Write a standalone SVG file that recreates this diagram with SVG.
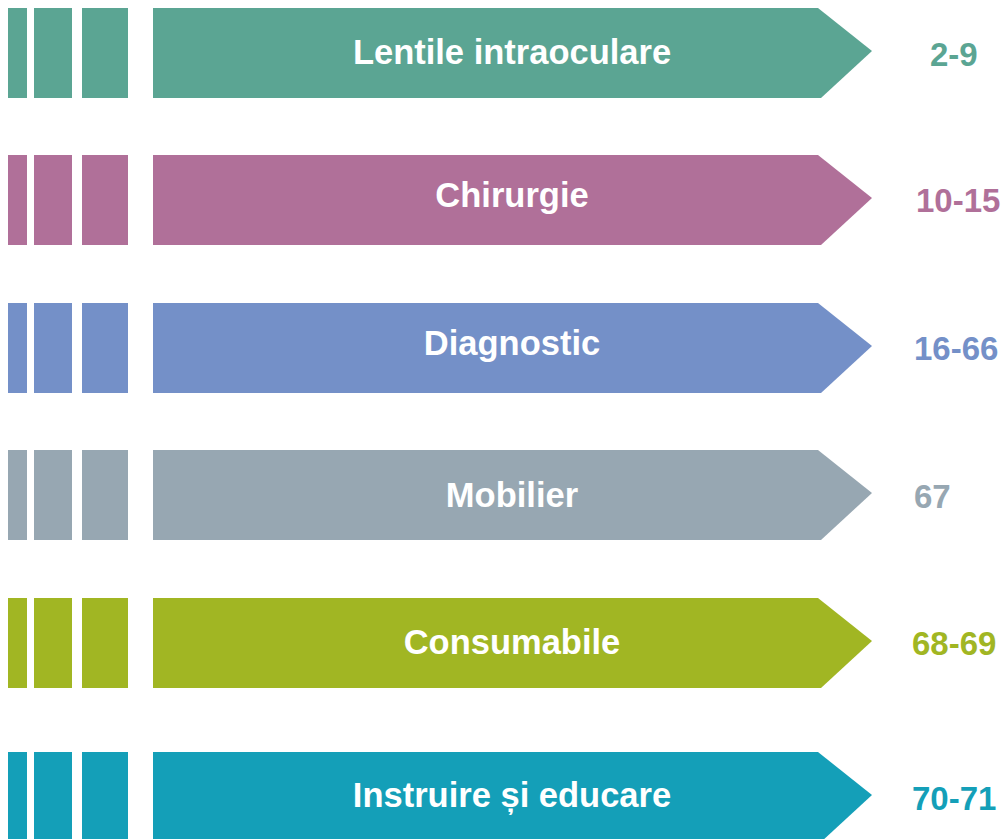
<svg xmlns="http://www.w3.org/2000/svg" width="1003" height="839" viewBox="0 0 1003 839">
  <style>
    .label { font-family: "Liberation Sans", Arial, sans-serif; font-weight: bold; font-size: 34.5px; fill: #ffffff; text-anchor: middle; }
    .pages { font-family: "Liberation Sans", Arial, sans-serif; font-weight: bold; font-size: 33px; }
    .c1 { fill: #5BA593; }
    .c2 { fill: #B07099; }
    .c3 { fill: #7490C8; }
    .c4 { fill: #97A7B2; }
    .c5 { fill: #A1B623; }
    .c6 { fill: #149FB8; }
  </style>
  <defs>
    <!-- three stripes + pointed banner, drawn at row top = 0 -->
    <g id="band">
      <rect x="8" y="0" width="19" height="90"/>
      <rect x="34" y="0" width="38" height="90"/>
      <rect x="82" y="0" width="46" height="90"/>
      <path d="M153,0 H818 L872,43 L821,90 H153 Z"/>
    </g>
  </defs>

  <rect width="1003" height="839" fill="#ffffff"/>

  <g id="lentile-intraoculare">
    <use href="#band" class="c1" transform="translate(0,8)"/>
    <text class="label" x="512" y="64">Lentile intraoculare</text>
    <text class="pages c1" x="930" y="66">2-9</text>
  </g>

  <g id="chirurgie">
    <use href="#band" class="c2" transform="translate(0,155)"/>
    <text class="label" x="512" y="207">Chirurgie</text>
    <text class="pages c2" x="916" y="212">10-15</text>
  </g>

  <g id="diagnostic">
    <use href="#band" class="c3" transform="translate(0,303)"/>
    <text class="label" x="512" y="355">Diagnostic</text>
    <text class="pages c3" x="914" y="360">16-66</text>
  </g>

  <g id="mobilier">
    <use href="#band" class="c4" transform="translate(0,450)"/>
    <text class="label" x="512" y="507">Mobilier</text>
    <text class="pages c4" x="914" y="508">67</text>
  </g>

  <g id="consumabile">
    <use href="#band" class="c5" transform="translate(0,598)"/>
    <text class="label" x="512" y="654">Consumabile</text>
    <text class="pages c5" x="912" y="655">68-69</text>
  </g>

  <g id="instruire-si-educare">
    <use href="#band" class="c6" transform="translate(0,752)"/>
    <text class="label" x="512" y="807">Instruire și educare</text>
    <text class="pages c6" x="912" y="810">70-71</text>
  </g>
</svg>
